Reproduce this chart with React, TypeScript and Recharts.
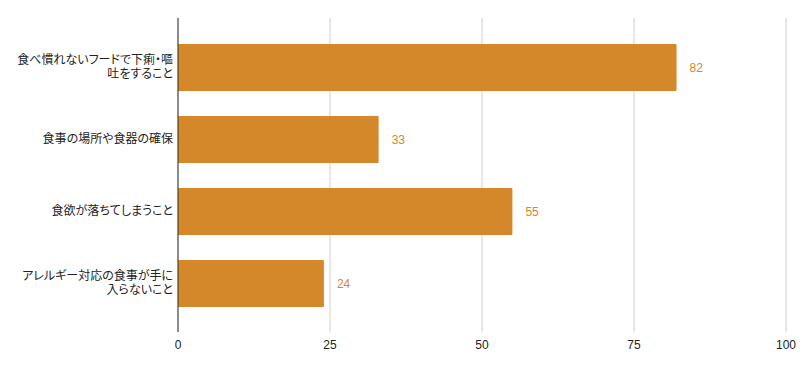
import React from "react";
import { BarChart, Bar, XAxis, YAxis, CartesianGrid, LabelList } from "recharts";

const categories = [
  "食べ慣れないフードで下痢・嘔吐をすること",
  "食事の場所や食器の確保",
  "食欲が落ちてしまうこと",
  "アレルギー対応の食事が手に入らないこと",
];
const values = [82, 33, 55, 24];
const xTicks = [0, 25, 50, 75, 100];
const wrapLines: Record<string, string[]> = {
  "食べ慣れないフードで下痢・嘔吐をすること": ["食べ慣れないフードで下痢・嘔", "吐をすること"],
  "アレルギー対応の食事が手に入らないこと": ["アレルギー対応の食事が手に", "入らないこと"],
};

const data = categories.map((name, i) => ({ name, value: values[i] }));

const BAR_COLOR = "#d4882a";
const FONT = "'Liberation Sans', Arial, 'Noto Sans CJK JP', sans-serif";

const YTick = (props: any) => {
  const { x, y, payload } = props;
  const tx = x + 4;
  const lines = wrapLines[payload.value] || [payload.value];
  const lh = 14;
  const start = -((lines.length - 1) * lh) / 2;
  return (
    <text
      x={tx}
      y={y}
      textAnchor="end"
      fontSize={12}
      fill="#222"
      style={{ fontFamily: FONT, fontFeatureSettings: '"palt"' }}
    >
      {lines.map((l: string, i: number) => (
        <tspan key={i} x={tx} dy={i === 0 ? start : lh} dominantBaseline="central">
          {l}
        </tspan>
      ))}
    </text>
  );
};

export default function App() {
  return (
    <div style={{ width: 797, height: 363, fontFamily: FONT }}>
      <BarChart
        width={797}
        height={363}
        data={data}
        layout="vertical"
        margin={{ top: 10, right: 19, left: 0, bottom: 9 }}
      >
        <CartesianGrid horizontal={false} stroke="#cccccc" />
        <XAxis
          type="number"
          domain={[0, 100]}
          ticks={xTicks}
          axisLine={false}
          tickLine={false}
          height={30}
          tick={{ fontSize: 12, fill: "#222", fontFamily: FONT }}
        />
        <YAxis
          type="category"
          dataKey="name"
          width={170}
          axisLine={{ stroke: "#333", strokeWidth: 1 }}
          tickLine={false}
          tickMargin={3}
          padding={{ top: 13, bottom: 13 }}
          tick={<YTick />}
          interval={0}
        />
        <Bar dataKey="value" fill={BAR_COLOR} barSize={47} radius={[0, 1, 1, 0]} isAnimationActive={false}>
          <LabelList
            dataKey="value"
            position="right"
            offset={13}
            fill={BAR_COLOR}
            fontSize={12}
            fontFamily={FONT}
          />
        </Bar>
      </BarChart>
    </div>
  );
}
